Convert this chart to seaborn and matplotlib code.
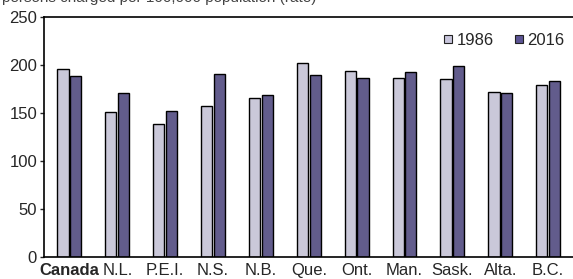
import numpy as np
import pandas as pd
import seaborn as sns
import matplotlib.pyplot as plt
from matplotlib.lines import Line2D

# values (rate per 100,000 population)
regions = ['Canada', 'N.L.', 'P.E.I.', 'N.S.', 'N.B.', 'Que.', 'Ont.',
           'Man.', 'Sask.', 'Alta.', 'B.C.']
rate_1986 = [196, 151.5, 139, 157.5, 165.5, 202.5, 193.5, 186.5, 185.5, 172, 179]
rate_2016 = [188.5, 170.5, 152, 190.5, 168.5, 189.5, 186, 193, 199, 171, 183.5]
years = ['1986', '2016']
colors = ['#c8c5dc', '#5c5494']

df = pd.DataFrame({'region': regions * 2,
                   'year': [years[0]] * len(regions) + [years[1]] * len(regions),
                   'rate': rate_1986 + rate_2016})

sns.set_style('white')
plt.rcParams['font.family'] = ['Liberation Sans', 'DejaVu Sans']

fig = plt.figure(figsize=(5.73, 2.79), dpi=100)
ax = fig.add_axes([0.0768, 0.079, 0.93, 0.86])

sns.barplot(data=df, x='region', y='rate', hue='year', palette=colors,
            width=0.53, gap=0.12, edgecolor='black', linewidth=1.0,
            legend=False, ax=ax)

ax.set_xlim(-0.53, 10.6)
ax.set_ylim(0, 250)
ax.set_yticks([0, 50, 100, 150, 200, 250])
ax.set_xlabel('')
ax.set_ylabel('')
ax.tick_params(axis='y', labelsize=12, length=3, width=1, direction='out', pad=2, left=True)
ax.tick_params(axis='x', labelsize=12, length=0, pad=4)
for lab in ax.get_xticklabels():
    if lab.get_text() == 'Canada':
        lab.set_fontweight('bold')

for side in ['left', 'bottom', 'top']:
    ax.spines[side].set_color('black')
    ax.spines[side].set_linewidth(1.2)
ax.spines['right'].set_visible(False)

handles = [Line2D([], [], marker='s', linestyle='', markersize=6,
                  markerfacecolor=c, markeredgecolor='#222222', markeredgewidth=0.8)
           for c in colors]
ax.legend(handles, years, loc='upper right', ncol=2, frameon=False,
          fontsize=12, handlelength=0.6, handletextpad=0.2, columnspacing=1.2,
          bbox_to_anchor=(0.995, 0.975), borderaxespad=0.2)

# subtitle mostly cut off at the top edge, as in the reference
fig.text(0.003, 0.992, 'persons charged per 100,000 population (rate)',
         fontsize=11, color='#444444', va='baseline', ha='left')

fig.savefig('out.png', dpi=100)
